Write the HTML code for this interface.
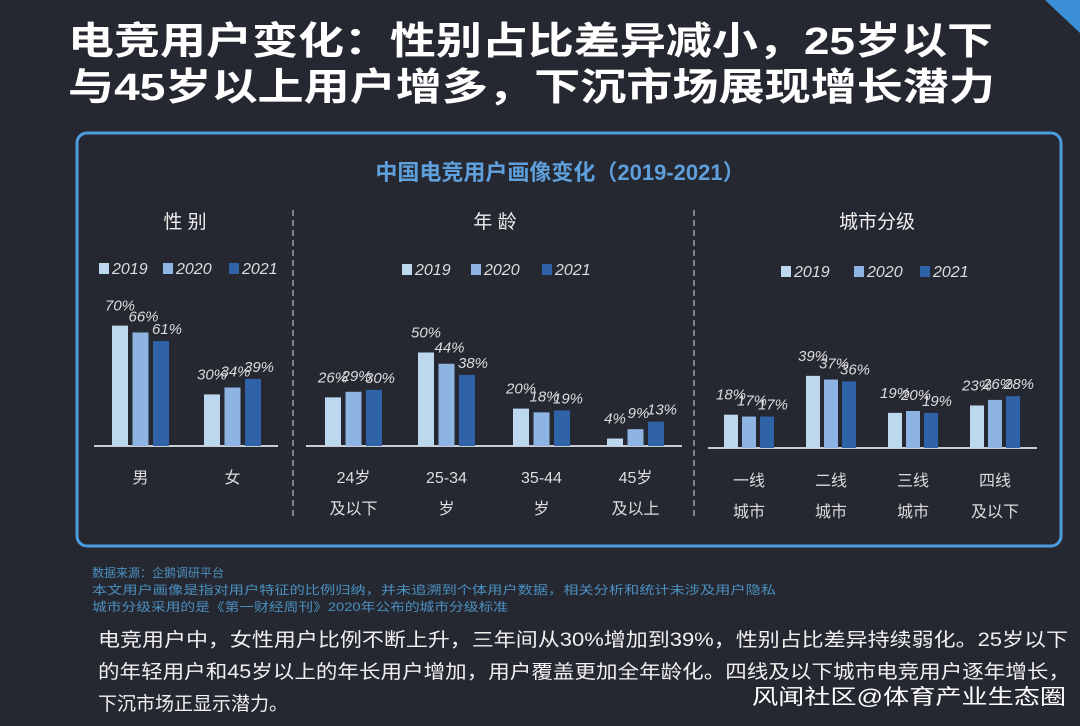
<!DOCTYPE html>
<html><head><meta charset="utf-8"><style>
html,body{margin:0;padding:0;background:#252831;}
svg{display:block;font-family:"Liberation Sans","Noto Sans CJK SC",sans-serif;}
</style></head><body>
<svg id="chart" width="1080" height="726" viewBox="0 0 1080 726">
<rect x="0" y="0" width="1080" height="726" fill="#252831"/>
<polygon points="1045,0 1080,0 1080,33" fill="#3b8fd6"/>
<text x="68" y="54" font-size="38" font-weight="bold" fill="#fff" textLength="925" lengthAdjust="spacingAndGlyphs">电竞用户变化：性别占比差异减小，25岁以下</text>
<text x="68" y="100" font-size="38" font-weight="bold" fill="#fff" textLength="927" lengthAdjust="spacingAndGlyphs">与45岁以上用户增多，下沉市场展现增长潜力</text>
<rect x="77" y="133" width="984" height="413" rx="10" fill="none" stroke="#4a9be0" stroke-width="3"/>
<text x="560" y="180" font-size="22" font-weight="bold" fill="#5f9fdc" text-anchor="middle">中国电竞用户画像变化（2019-2021）</text>
<line x1="293" y1="210" x2="293" y2="520" stroke="#9aa0aa" stroke-width="1.5" stroke-dasharray="6,4"/>
<line x1="694" y1="210" x2="694" y2="520" stroke="#9aa0aa" stroke-width="1.5" stroke-dasharray="6,4"/>
<g id="panels"></g>
<text x="92" y="577" font-size="12" fill="#4b8fbf">数据来源：企鹅调研平台</text>
<text x="92" y="594" font-size="12" fill="#4b8fbf" textLength="684" lengthAdjust="spacingAndGlyphs">本文用户画像是指对用户特征的比例归纳，并未追溯到个体用户数据，相关分析和统计未涉及用户隐私</text>
<text x="92" y="611" font-size="12" fill="#4b8fbf" textLength="416" lengthAdjust="spacingAndGlyphs">城市分级采用的是《第一财经周刊》2020年公布的城市分级标准</text>
<text x="98" y="646" font-size="19" fill="#f0f0f0" textLength="970" lengthAdjust="spacingAndGlyphs">电竞用户中，女性用户比例不断上升，三年间从30%增加到39%，性别占比差异持续弱化。25岁以下</text>
<text x="98" y="678" font-size="19" fill="#f0f0f0" textLength="972" lengthAdjust="spacingAndGlyphs">的年轻用户和45岁以上的年长用户增加，用户覆盖更加全年龄化。四线及以下城市电竞用户逐年增长，</text>
<text x="98" y="710" font-size="19" fill="#f0f0f0">下沉市场正显示潜力。</text>
<text x="752" y="704" font-size="21" fill="#ffffff" textLength="314" lengthAdjust="spacingAndGlyphs">风闻社区@体育产业生态圈</text>
</svg>
<script>
const years = ["2019","2020","2021"];
const colors = ["#bdd7ee","#8db4e2","#2f62a6"];
const genderCats = [["男"],["女"]];
const gender2019 = [70,30];
const gender2020 = [66,34];
const gender2021 = [61,39];
const ageCats = [["24岁","及以下"],["25-34","岁"],["35-44","岁"],["45岁","及以上"]];
const age2019 = [26,50,20,4];
const age2020 = [29,44,18,9];
const age2021 = [30,38,19,13];
const cityCats = [["一线","城市"],["二线","城市"],["三线","城市"],["四线","及以下"]];
const city2019 = [18,39,19,23];
const city2020 = [17,37,20,26];
const city2021 = [17,36,19,28];

const NS="http://www.w3.org/2000/svg";
const root=document.getElementById('panels');
function mk(tag,attrs,parent,txt){const e=document.createElementNS(NS,tag);for(const k in attrs)e.setAttribute(k,attrs[k]);if(txt!==undefined)e.textContent=txt;(parent||root).appendChild(e);return e;}

function panel(cfg){
  const g=mk('g',{});
  
  
  const t=mk('text',{x:cfg.titleX,y:228,'font-size':19,fill:'#eee','text-anchor':'middle'},g,cfg.title);
  
  
  years.forEach((y,i)=>{
    const lx=cfg.legendX[i];
    const r=mk('rect',{x:lx,y:cfg.legendY-11,width:10,height:11,fill:colors[i]},g);
    
    
    const lt=mk('text',{x:lx+13,y:cfg.legendY,'font-size':16,'font-style':'italic',fill:'#ddd'},g,y);
    
    
  });
  const ax=mk('line',{x1:cfg.axis[0],x2:cfg.axis[1],y1:cfg.base,y2:cfg.base,stroke:'#c8ccd4','stroke-width':2},g);
  
  
  const yv=v=>cfg.base-v*cfg.scale;
  cfg.series.forEach((s,si)=>{
    s.forEach((v,ci)=>{
      const x=cfg.groupX[ci]+si*cfg.step;
      const b=mk('rect',{x:x,y:yv(v),width:cfg.bw,height:cfg.base-yv(v),fill:colors[si]},g);
      
      
      const l=mk('text',{x:x+cfg.bw/2+si*3,y:yv(v)-7-(2-si)*4,'font-size':15,'font-style':'italic',fill:'#dcdcdc','text-anchor':'middle'},g,v+'%');
      
      
    });
  });
  cfg.cats.forEach((c,ci)=>{
    const cx=cfg.groupX[ci]+cfg.step+cfg.bw/2;
    c.forEach((line,li)=>{
      const ct=mk('text',{x:cx,y:cfg.catY+li*31,'font-size':16,fill:'#ddd','text-anchor':'middle'},g,line);
      
      
    });
  });
}
panel({name:'gender',title:'性 别',titleX:185,legendX:[99,163,229],legendY:274,axis:[94,278],base:446,scale:1.72,
  groupX:[112,204],step:20.5,bw:16,series:[gender2019,gender2020,gender2021],cats:genderCats,catY:483});
panel({name:'age',title:'年 龄',titleX:495,legendX:[402,471,542],legendY:275,axis:[306,682],base:446,scale:1.87,
  groupX:[325,418,513,607],step:20.5,bw:16,series:[age2019,age2020,age2021],cats:ageCats,catY:483});
panel({name:'city',title:'城市分级',titleX:877,legendX:[781,854,920],legendY:277,axis:[708,1037],base:448,scale:1.85,
  groupX:[724,806,888,970],step:18,bw:14,series:[city2019,city2020,city2021],cats:cityCats,catY:486});
</script>
</body></html>
